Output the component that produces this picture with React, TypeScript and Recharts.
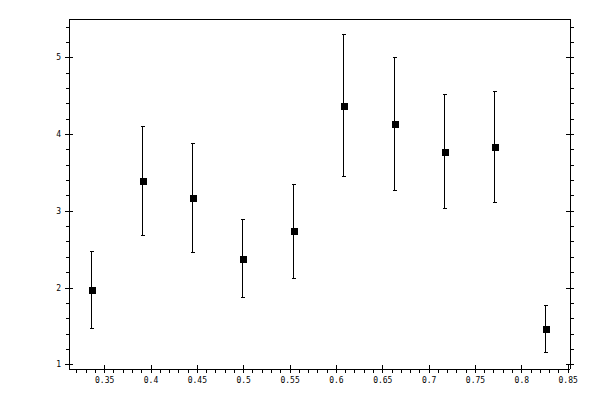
import { ScatterChart, Scatter, XAxis, YAxis, ErrorBar } from 'recharts'

// measured points (x, value, lower and upper end of the error bar)
const xValues = [0.336, 0.391, 0.445, 0.499, 0.554, 0.608, 0.663, 0.717, 0.771, 0.826]
const yValues = [1.97, 3.39, 3.17, 2.38, 2.74, 4.37, 4.14, 3.77, 3.84, 1.46]
const yLower = [1.47, 2.68, 2.46, 1.87, 2.13, 3.45, 3.27, 3.03, 3.11, 1.16]
const yUpper = [2.48, 4.11, 3.88, 2.89, 3.35, 5.3, 5.01, 4.52, 4.56, 1.77]

// labelled ticks
const xMajorTicks = [0.35, 0.4, 0.45, 0.5, 0.55, 0.6, 0.65, 0.7, 0.75, 0.8, 0.85]
const yMajorTicks = [1, 2, 3, 4, 5]

const X_DOMAIN: [number, number] = [0.3115, 0.852]
const Y_DOMAIN: [number, number] = [0.944, 5.507]

const round = (v: number, d: number) => Math.round(v * 10 ** d) / 10 ** d

// minor ticks every 0.01 on x and 0.2 on y, inside the domain
function minorTicks(domain: [number, number], step: number, digits: number): number[] {
  const out: number[] = []
  for (let v = Math.ceil(domain[0] / step) * step; v <= domain[1] + 1e-9; v += step) {
    out.push(round(v, digits))
  }
  return out
}

const xTicks = Array.from(new Set([...minorTicks(X_DOMAIN, 0.01, 2), ...xMajorTicks])).sort((a, b) => a - b)
const yTicks = Array.from(new Set([...minorTicks(Y_DOMAIN, 0.2, 1), ...yMajorTicks])).sort((a, b) => a - b)

const isMajor = (v: number, majors: number[]) => majors.some((m) => Math.abs(m - v) < 1e-6)

const data = xValues.map((x, i) => ({
  x,
  y: yValues[i],
  err: [round(yValues[i] - yLower[i], 3), round(yUpper[i] - yValues[i], 3)],
}))

const MAJOR = 4
const MINOR = 3.5
const FONT = { fontFamily: '"DejaVu Sans Mono", monospace', fontSize: 8, fill: '#000' }
const crisp = { stroke: '#000', strokeWidth: 1, shapeRendering: 'crispEdges' as const }

function XTick({ x, y, payload, labels }: any) {
  const major = isMajor(payload.value, xMajorTicks)
  // bottom axis ticks point down, top axis ticks point up
  const dir = labels ? 1 : -1
  return (
    <g>
      <line x1={x} x2={x} y1={major ? y - dir * MAJOR : y} y2={y + dir * (major ? MAJOR : MINOR)} {...crisp} />
      {labels && major && (
        <text x={x} y={y + 11.5} textAnchor="middle" dominantBaseline="central" {...FONT}>
          {String(round(payload.value, 2))}
        </text>
      )}
    </g>
  )
}

function YTick({ x, y, payload, labels }: any) {
  const major = isMajor(payload.value, yMajorTicks)
  const dir = labels ? -1 : 1
  return (
    <g>
      <line y1={y} y2={y} x1={major ? x - dir * MAJOR : x} x2={x + dir * (major ? MAJOR : MINOR)} {...crisp} />
      {labels && major && (
        <text x={x - 8} y={y} textAnchor="end" dominantBaseline="central" {...FONT}>
          {String(payload.value)}
        </text>
      )}
    </g>
  )
}

function Square({ cx, cy }: any) {
  return (
    <rect
      x={Math.round(cx) - 3}
      y={Math.round(cy) - 3}
      width={7}
      height={7}
      fill="#000"
      shapeRendering="crispEdges"
    />
  )
}

export default function App() {
  return (
    <div style={{ position: 'absolute', left: 0, top: 0, width: 600, height: 400, background: '#fff' }}>
      <ScatterChart width={600} height={400} margin={{ top: 0, right: 0, bottom: 0, left: 0 }}>
        <XAxis
          xAxisId="b"
          dataKey="x"
          type="number"
          orientation="bottom"
          domain={X_DOMAIN}
          allowDataOverflow
          ticks={xTicks}
          interval={0}
          height={31}
          tickSize={0}
          tickMargin={0}
          tickLine={false}
          axisLine={crisp}
          tick={<XTick labels />}
        />
        <XAxis
          xAxisId="t"
          type="number"
          orientation="top"
          domain={X_DOMAIN}
          allowDataOverflow
          ticks={xTicks}
          interval={0}
          height={19}
          tickSize={0}
          tickMargin={0}
          tickLine={false}
          axisLine={crisp}
          tick={<XTick labels={false} />}
        />
        <YAxis
          yAxisId="l"
          dataKey="y"
          type="number"
          orientation="left"
          domain={Y_DOMAIN}
          allowDataOverflow
          ticks={yTicks}
          interval={0}
          width={69}
          tickSize={0}
          tickMargin={0}
          tickLine={false}
          axisLine={crisp}
          tick={<YTick labels />}
        />
        <YAxis
          yAxisId="r"
          type="number"
          orientation="right"
          domain={Y_DOMAIN}
          allowDataOverflow
          ticks={yTicks}
          interval={0}
          width={30}
          tickSize={0}
          tickMargin={0}
          tickLine={false}
          axisLine={crisp}
          tick={<YTick labels={false} />}
        />
        <Scatter xAxisId="b" yAxisId="l" data={data} shape={<Square />} isAnimationActive={false}>
          <ErrorBar
            dataKey="err"
            direction="y"
            width={2}
            stroke="#000"
            strokeWidth={1}
            shapeRendering="crispEdges"
            isAnimationActive={false}
          />
        </Scatter>
      </ScatterChart>
    </div>
  )
}
